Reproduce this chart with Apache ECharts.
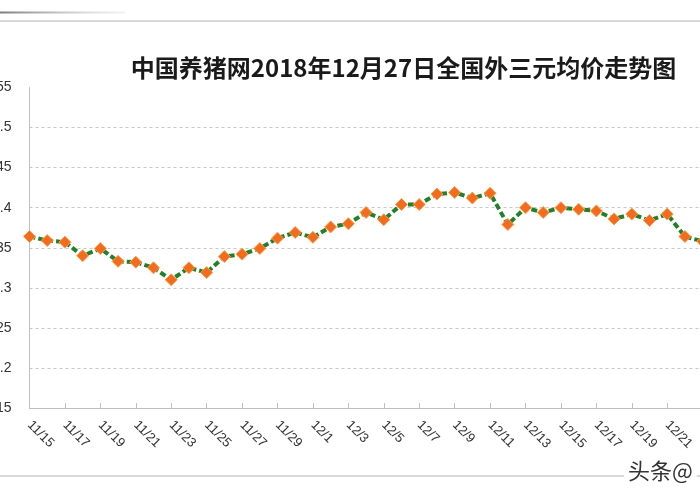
<!DOCTYPE html>
<html>
<head>
<meta charset="utf-8">
<script src="https://cdn.jsdelivr.net/npm/echarts@6/dist/echarts.min.js"></script>
<style>
html,body{margin:0;padding:0;background:#fff;overflow:hidden;}
#chart{width:700px;height:500px;}
</style>
</head>
<body>
<div id="chart"></div>
<script>
// Dates (daily) 11/15 .. 12/27
const categories = [
  '11/15','11/16','11/17','11/18','11/19','11/20','11/21','11/22','11/23','11/24',
  '11/25','11/26','11/27','11/28','11/29','11/30','12/1','12/2','12/3','12/4',
  '12/5','12/6','12/7','12/8','12/9','12/10','12/11','12/12','12/13','12/14',
  '12/15','12/16','12/17','12/18','12/19','12/20','12/21','12/22','12/23','12/24',
  '12/25','12/26','12/27'
];
const prices = [
  13.364, 13.359, 13.357, 13.340, 13.349, 13.333, 13.332, 13.325, 13.310, 13.325,
  13.319, 13.339, 13.342, 13.349, 13.362, 13.369, 13.363, 13.376, 13.380, 13.394,
  13.385, 13.404, 13.404, 13.417, 13.419, 13.412, 13.418, 13.379, 13.400, 13.394,
  13.400, 13.398, 13.396, 13.386, 13.392, 13.384, 13.392, 13.364, 13.358
];
const yMin = 13.15, yMax = 13.55, yStep = 0.05;
const titleText = '中国养猪网2018年12月27日全国外三元均价走势图';

const chart = echarts.init(document.getElementById('chart'));
const splitColors = ['#c8c8c8','#c8c8c8','#c8c8c8','#c8c8c8','#c8c8c8','#c8c8c8','#c8c8c8','#c8c8c8','rgba(0,0,0,0)'];
chart.setOption({
  animation: false,
  backgroundColor: '#fff',
  grid: { left: 29.5, top: 87.5, width: 744, height: 320.5, containLabel: false, outerBoundsMode: 'none' },
  xAxis: {
    type: 'category',
    data: categories,
    boundaryGap: false,
    axisLine: { lineStyle: { color: '#bfbfbf', width: 1 } },
    axisTick: { show: true, inside: true, length: 5, interval: 1, lineStyle: { color: '#bfbfbf' } },
    axisLabel: { interval: 1, rotate: -45, margin: 15, fontSize: 13, color: '#333333', fontFamily: 'Liberation Sans' },
    splitLine: { show: false }
  },
  yAxis: {
    type: 'value',
    min: yMin, max: yMax, interval: yStep,
    axisLine: { show: true, lineStyle: { color: '#bfbfbf', width: 1 } },
    axisTick: { show: false },
    axisLabel: { margin: 18, fontSize: 14, color: '#333333', fontFamily: 'Liberation Sans' },
    splitLine: { show: true, lineStyle: { color: splitColors, type: [3, 3], width: 1 } }
  },
  series: [{
    type: 'line',
    data: prices,
    symbol: 'diamond',
    symbolSize: 12,
    showSymbol: true,
    showAllSymbol: true,
    itemStyle: { color: '#f36b1c', borderColor: '#f8a050', borderWidth: 1 },
    lineStyle: { color: '#23802a', width: 4, type: [6, 3] }
  }],
  graphic: [
    { type: 'line', silent: true, shape: { x1: 0, y1: 12.5, x2: 125, y2: 12.5 },
      style: { lineWidth: 2, stroke: new echarts.graphic.LinearGradient(0, 0, 1, 0, [
        { offset: 0, color: '#7a7a7a' }, { offset: 1, color: 'rgba(200,200,200,0.2)' }]) } },
    { type: 'line', silent: true, shape: { x1: 0, y1: 21, x2: 700, y2: 21 },
      style: { lineWidth: 1.5, stroke: '#cccccc' } },
    { type: 'line', silent: true, shape: { x1: 0, y1: 476, x2: 700, y2: 476 },
      style: { lineWidth: 1.5, stroke: '#cccccc' } },
    { type: 'text', silent: true, x: 403.5, y: 68,
      style: { text: titleText, align: 'center', verticalAlign: 'middle', textAlign: 'center', textVerticalAlign: 'middle',
        fontSize: 24, fontWeight: 'bold', fontFamily: '"Noto Sans CJK SC"', fill: '#1a1a1a' } },
    { type: 'text', silent: true, x: 624, y: 471,
      style: { text: '头条@', align: 'left', verticalAlign: 'middle', textVerticalAlign: 'middle',
        fontSize: 22, fontFamily: '"Noto Sans CJK SC"', fill: '#333333', backgroundColor: '#ffffff', padding: [0, 4, 0, 4] } }
  ]
});
</script>
</body>
</html>
